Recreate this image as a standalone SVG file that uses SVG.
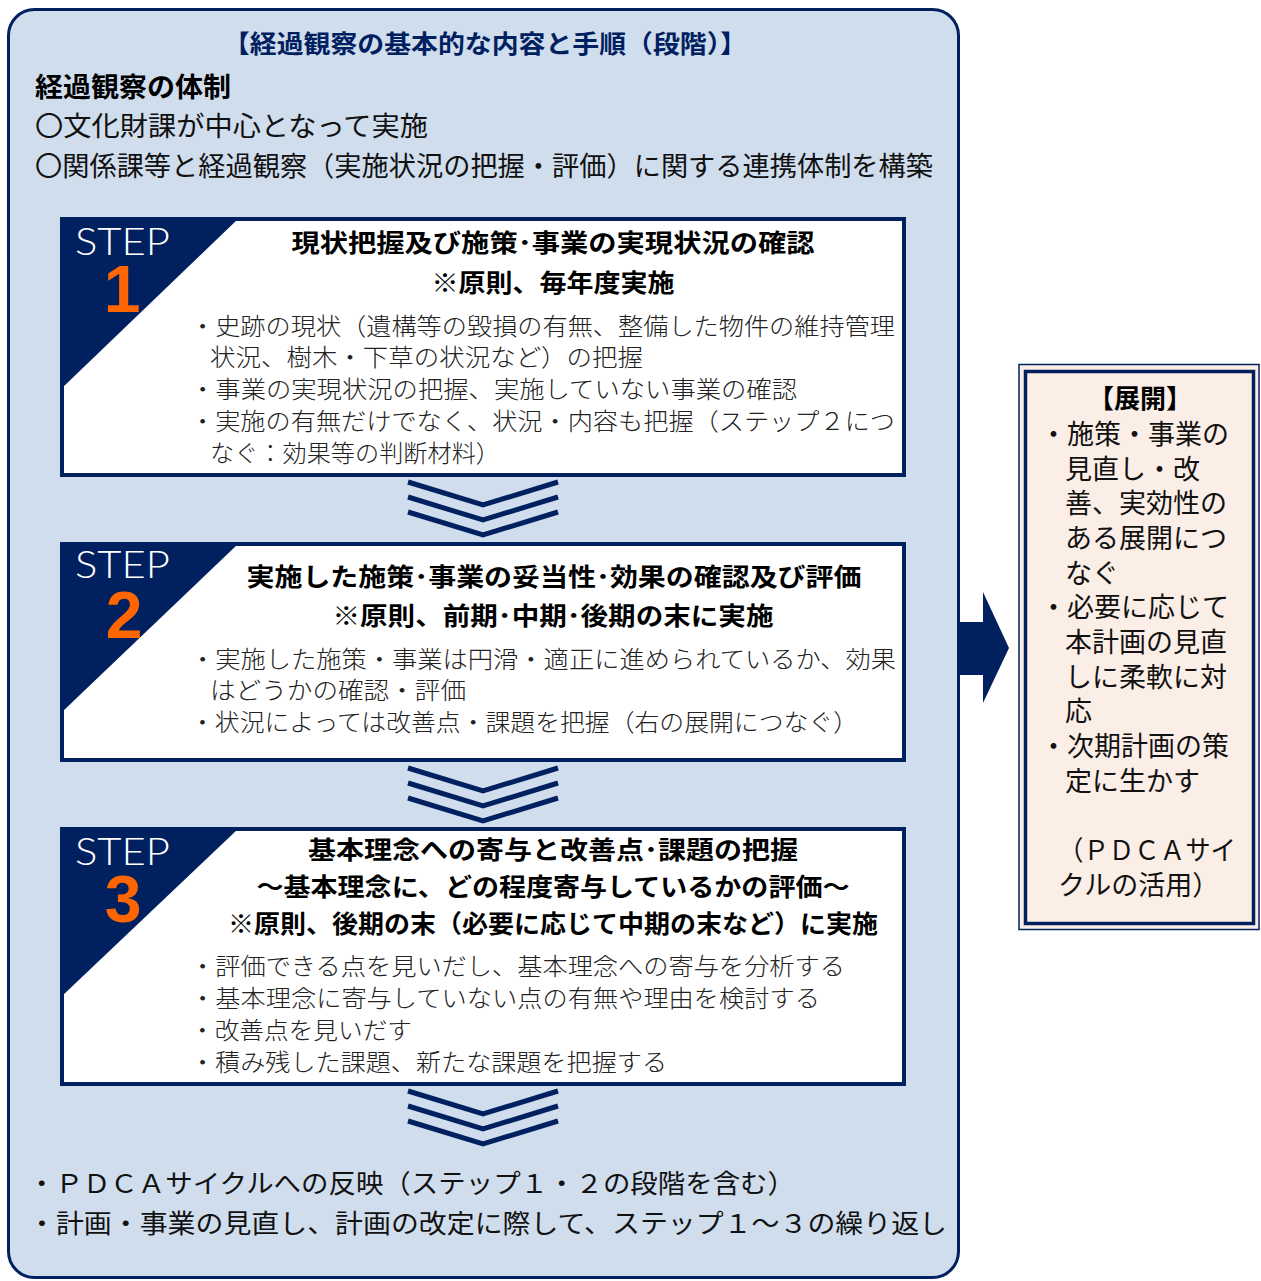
<svg xmlns="http://www.w3.org/2000/svg" width="1261" height="1281" viewBox="0 0 1261 1281">
<defs>
<style>
.h{font-family:"Noto Sans CJK JP","Noto Sans",sans-serif;font-weight:bold;fill:#000;}
.t{font-family:"Noto Sans CJK JP","Noto Sans",sans-serif;fill:#111;}
.b{font-family:"Noto Sans CJK JP","Noto Sans",sans-serif;font-weight:300;fill:#222;font-size:24px;}
.step{font-family:Lato,"Liberation Sans",sans-serif;font-weight:300;fill:#fff;font-size:37px;}
.num{font-family:"Liberation Sans",Arial,sans-serif;font-weight:bold;fill:#FF6600;font-size:66px;}
.box{fill:#fff;stroke:#002060;stroke-width:4;}
.tri{fill:#002060;}
.chev{fill:none;stroke:#002060;stroke-width:5;}
</style>
</defs>
<g id="main">
<rect x="8.5" y="9.5" width="950" height="1268" rx="26" fill="#D0DDED" stroke="#002060" stroke-width="3"/>
<text class="h" x="485" y="53" font-size="25" fill="#002060" style="fill:#002060" text-anchor="middle" textLength="524" lengthAdjust="spacingAndGlyphs">【経過観察の基本的な内容と手順（段階）】</text>
<text class="h" x="35" y="97" font-size="27" textLength="196" lengthAdjust="spacingAndGlyphs">経過観察の体制</text>
<text class="t" x="35" y="136" font-size="27" textLength="393" lengthAdjust="spacingAndGlyphs">〇文化財課が中心となって実施</text>
<text class="t" x="35" y="176" font-size="27" textLength="898" lengthAdjust="spacingAndGlyphs">〇関係課等と経過観察（実施状況の把握・評価）に関する連携体制を構築</text>
</g>
<g id="step1">
<rect class="box" x="62" y="219" width="842" height="256"/>
<polygon class="tri" points="62,219 238,219 62,388"/>
<text class="step" x="75" y="255" textLength="95" lengthAdjust="spacingAndGlyphs">STEP</text>
<text class="num" x="122" y="312" text-anchor="middle">1</text>
<text class="h" x="553" y="252" font-size="25" text-anchor="middle" textLength="523" lengthAdjust="spacingAndGlyphs">現状把握及び施策･事業の実現状況の確認</text>
<text class="h" x="553" y="292" font-size="25" text-anchor="middle" textLength="243" lengthAdjust="spacingAndGlyphs">※原則、毎年度実施</text>
<text class="b" x="190" y="335" textLength="705" lengthAdjust="spacingAndGlyphs">・史跡の現状（遺構等の毀損の有無、整備した物件の維持管理</text>
<text class="b" x="210" y="366" textLength="433" lengthAdjust="spacingAndGlyphs">状況、樹木・下草の状況など）の把握</text>
<text class="b" x="190" y="398" textLength="607" lengthAdjust="spacingAndGlyphs">・事業の実現状況の把握、実施していない事業の確認</text>
<text class="b" x="190" y="430" textLength="705" lengthAdjust="spacingAndGlyphs">・実施の有無だけでなく、状況・内容も把握（ステップ２につ</text>
<text class="b" x="210" y="462" textLength="290" lengthAdjust="spacingAndGlyphs">なぐ：効果等の判断材料）</text>
</g>
<g id="step2">
<rect class="box" x="62" y="544" width="842" height="216"/>
<polygon class="tri" points="62,544 238,544 62,712"/>
<text class="step" x="75" y="578" textLength="95" lengthAdjust="spacingAndGlyphs">STEP</text>
<text class="num" x="124" y="638" text-anchor="middle">2</text>
<text class="h" x="554" y="586" font-size="25" text-anchor="middle" textLength="615" lengthAdjust="spacingAndGlyphs">実施した施策･事業の妥当性･効果の確認及び評価</text>
<text class="h" x="553" y="625" font-size="25" text-anchor="middle" textLength="441" lengthAdjust="spacingAndGlyphs">※原則、前期･中期･後期の末に実施</text>
<text class="b" x="190" y="668" textLength="706" lengthAdjust="spacingAndGlyphs">・実施した施策・事業は円滑・適正に進められているか、効果</text>
<text class="b" x="210" y="699" textLength="256" lengthAdjust="spacingAndGlyphs">はどうかの確認・評価</text>
<text class="b" x="190" y="731" textLength="668" lengthAdjust="spacingAndGlyphs">・状況によっては改善点・課題を把握（右の展開につなぐ）</text>
</g>
<g id="step3">
<rect class="box" x="62" y="829" width="842" height="255"/>
<polygon class="tri" points="62,829 238,829 62,996"/>
<text class="step" x="75" y="865" textLength="95" lengthAdjust="spacingAndGlyphs">STEP</text>
<text class="num" x="123" y="922" text-anchor="middle">3</text>
<text class="h" x="553" y="859" font-size="25" text-anchor="middle" textLength="490" lengthAdjust="spacingAndGlyphs">基本理念への寄与と改善点･課題の把握</text>
<text class="h" x="553" y="896" font-size="25" text-anchor="middle" textLength="593" lengthAdjust="spacingAndGlyphs">～基本理念に、どの程度寄与しているかの評価～</text>
<text class="h" x="553" y="933" font-size="25" text-anchor="middle" textLength="650" lengthAdjust="spacingAndGlyphs">※原則、後期の末（必要に応じて中期の末など）に実施</text>
<text class="b" x="190" y="975" textLength="655" lengthAdjust="spacingAndGlyphs">・評価できる点を見いだし、基本理念への寄与を分析する</text>
<text class="b" x="190" y="1007" textLength="630" lengthAdjust="spacingAndGlyphs">・基本理念に寄与していない点の有無や理由を検討する</text>
<text class="b" x="190" y="1039" textLength="222" lengthAdjust="spacingAndGlyphs">・改善点を見いだす</text>
<text class="b" x="190" y="1071" textLength="477" lengthAdjust="spacingAndGlyphs">・積み残した課題、新たな課題を把握する</text>
</g>
<g id="bottom-notes">
<text class="t" x="28" y="1193" font-size="26" textLength="767" lengthAdjust="spacingAndGlyphs">・ＰＤＣＡサイクルへの反映（ステップ１・２の段階を含む）</text>
<text class="t" x="28" y="1233" font-size="26" textLength="919" lengthAdjust="spacingAndGlyphs">・計画・事業の見直し、計画の改定に際して、ステップ１～３の繰り返し</text>
</g>
<g id="tenkai">
<rect x="1019" y="364.5" width="240" height="565" fill="#FBEEE6" stroke="#002060" stroke-width="1.5"/>
<rect x="1025.5" y="371.5" width="228" height="552" fill="#FBEEE6" stroke="#002060" stroke-width="3.5"/>
<text class="h" x="1140" y="408" font-size="26" text-anchor="middle">【展開】</text>
<g class="t" font-size="27">
<text x="1040" y="444">・施策・事業の</text>
<text x="1065" y="479">見直し・改</text>
<text x="1065" y="513">善、実効性の</text>
<text x="1065" y="548">ある展開につ</text>
<text x="1065" y="583">なぐ</text>
<text x="1040" y="617">・必要に応じて</text>
<text x="1065" y="652">本計画の見直</text>
<text x="1065" y="687">しに柔軟に対</text>
<text x="1065" y="721">応</text>
<text x="1040" y="756">・次期計画の策</text>
<text x="1065" y="791">定に生かす</text>
<text x="1058" y="860" textLength="178" lengthAdjust="spacingAndGlyphs">（ＰＤＣＡサイ</text>
<text x="1058" y="895">クルの活用）</text>
</g>
</g>
<g id="connectors">
<polyline class="chev" points="408,482 483,505 558,482"/>
<polyline class="chev" points="408,497 483,520 558,497"/>
<polyline class="chev" points="408,512 483,535 558,512"/>
<polyline class="chev" points="408,768 483,791 558,768"/>
<polyline class="chev" points="408,783 483,806 558,783"/>
<polyline class="chev" points="408,798 483,821 558,798"/>
<polyline class="chev" points="408,1091 483,1114 558,1091"/>
<polyline class="chev" points="408,1106 483,1129 558,1106"/>
<polyline class="chev" points="408,1121 483,1144 558,1121"/>
<polygon fill="#002060" points="959,622 983,622 983,592 1009,648 983,703 983,675 959,675"/>
</g>
</svg>
